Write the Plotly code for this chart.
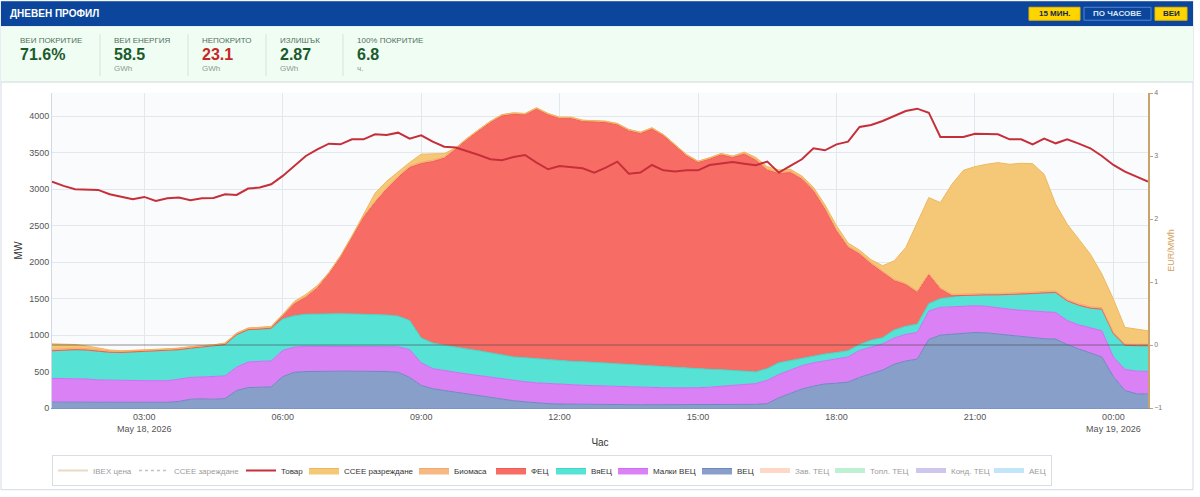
"""
Дневен профил - производство от ВЕИ и товар (15 мин.)
"""

import pandas as pd
import plotly.graph_objects as go

# Размер на картинката и полетата около графиката (px)
W, H = 1200, 497
M_L, M_R, M_T, M_B = 52, 52, 93, 88

FONT = "Liberation Sans, Arial, sans-serif"

# 15-минутни интервали 01:00 -> 00:45
TIMES = pd.date_range("2026-05-18 01:00", periods=96, freq="15min")

VEC = [80, 80, 80, 80, 80, 78, 78, 78, 78, 78, 78,
       90, 120, 125, 120, 130,
       240, 280, 285, 290,
       430, 490, 500, 505, 505, 505, 505, 505, 505, 500, 490, 420,
       310, 265, 240, 215, 195, 175, 150, 120, 100, 85, 70, 60, 55,
       52, 50, 50, 48, 48, 46, 45, 45, 45, 45, 45, 45, 46, 46, 47, 48, 50,
       60, 140, 200, 260, 300, 330, 340, 355, 420, 470, 520, 600, 645, 670,
       940, 1000, 1015, 1030, 1036, 1030, 1015, 1000, 975, 960, 950, 945,
       870, 810, 760, 700, 430, 240, 195, 190]

MALKI_VEC = [326, 325, 320, 318, 305, 302, 300, 298, 297, 297, 296,
             305, 300, 300, 308, 310,
             320, 350, 355, 355,
             360, 345, 345, 340, 340, 340, 340, 340, 340, 345, 350, 380,
             310, 275, 280, 275, 271, 270, 270, 275, 275, 275, 275, 275, 274,
             268, 262, 256, 252, 247, 244, 240, 235, 233, 231, 230, 233, 239, 249, 258, 267, 285,
             320, 320, 320, 320, 320, 320, 340, 345, 370, 370, 360, 360, 365, 366,
             390, 380, 375, 370, 366, 365, 355, 355, 365, 370, 370, 365,
             330, 330, 340, 359, 270, 290, 310, 312]

VYEC = [379, 390, 400, 397, 395, 385, 384, 394, 400, 405, 411,
        405, 400, 410, 417, 430,
        445, 445, 442, 440,
        430, 430, 440, 445, 447, 447, 445, 443, 440, 430, 420, 400,
        340, 350, 340, 340, 342, 340, 340, 335, 325, 330, 330, 325, 319,
        320, 323, 319, 315, 305, 300, 295, 290, 282, 274, 265, 256, 245, 230, 215, 190, 160,
        160, 160, 130, 105, 90, 90, 80, 85, 80, 90, 85, 110, 110, 114,
        100, 120, 130, 145, 150, 157, 182, 200, 220, 240, 260, 274,
        270, 270, 270, 297, 320, 330, 349, 352]

FEC = [0, 0, 0, 0, 0, 0, 0, 0, 0, 0, 0, 0, 0, 0, 0, 0, 0, 0, 0,
       10, 42, 160, 231, 354, 544, 772, 1048, 1324, 1532,
       1725, 1900, 2097, 2391, 2489, 2565, 2718, 2877, 3014, 3153,
       3274, 3327, 3328, 3421, 3358, 3320, 3328, 3292, 3297, 3298,
       3281, 3209, 3182, 3252, 3170, 3044, 2916, 2831, 2881, 2945,
       2914, 2975, 2902, 2720, 2594, 2578, 2452, 2267, 1986, 1669,
       1416, 1239, 1043, 893, 674, 570, 434, 396, 130, 19,
       0, 0, 0, 0, 0, 0, 0, 0, 0, 0, 0, 0, 0, 0, 0, 0, 0]

BIOMASA = [20, 20, 21, 21, 20, 20, 19, 19, 20, 20, 20, 21,
           21, 20, 20, 20, 21, 21, 22, 22, 22, 21, 21, 20,
           20, 20, 20, 20, 19, 19, 19, 20, 20, 20, 20, 20,
           19, 19, 19, 19, 20, 20, 20, 20, 20, 19, 19, 19,
           19, 20, 20, 20, 20, 20, 19, 19, 19, 20, 20, 20,
           20, 20, 21, 21, 21, 20, 20, 20, 20, 21, 21, 21,
           21, 20, 20, 20, 20, 20, 20, 20, 20, 20, 20, 20,
           20, 20, 20, 20, 20, 21, 21, 21, 20, 20, 20, 20]

CCEE_RAZR = [75, 65, 50, 35, 20, 10, 5,
             0, 0, 0, 0, 0, 0, 0, 0, 0, 0, 0, 0, 0, 0,
             15, 20, 15,
             0, 0, 0,
             30, 110, 90, 60, 50, 110, 85, 45,
             0, 0, 0, 0, 0, 0, 0, 0, 0, 0, 0, 0, 0, 0, 0, 0, 0, 0, 0, 0, 0, 0, 0, 0, 0,
             10, 20, 30, 30, 25, 25, 30, 40, 50, 40, 35,
             39, 72, 254, 490, 946, 1040, 1167, 1509, 1695, 1738, 1770, 1793,
             1767, 1776, 1761, 1605, 1190, 1030, 885, 719, 460, 453, 225, 204, 185]

TOVAR = [3105, 3046, 3000, 2991, 2991, 2931, 2895, 2863, 2895, 2840, 2877,
         2886, 2849, 2877, 2881, 2931, 2922, 3009, 3023, 3068, 3183, 3320,
         3456, 3548, 3625, 3616, 3685, 3685, 3753, 3744, 3776, 3694, 3740,
         3653, 3584, 3571, 3525, 3470, 3411, 3397, 3443, 3470, 3365, 3274,
         3320, 3306, 3288, 3228,
         3297, 3379, 3214, 3228, 3333, 3260, 3242, 3260, 3260, 3333, 3351,
         3374, 3351, 3329, 3379, 3228, 3320, 3411, 3562, 3534, 3616, 3653,
         3854, 3881, 3936, 4004, 4073,
         4105, 4050, 3717, 3717, 3717, 3762, 3753, 3753, 3685, 3685, 3616,
         3694, 3630, 3685, 3625, 3562, 3456, 3333, 3242, 3169, 3105]

# Показатели над графиката
KPI_LABELS = ["ВЕИ ПОКРИТИЕ", "ВЕИ ЕНЕРГИЯ", "НЕПОКРИТО", "ИЗЛИШЪК", "100% ПОКРИТИЕ"]
KPI_VALUES = ["71.6%", "58.5", "23.1", "2.87", "6.8"]
KPI_UNITS = ["", "GWh", "GWh", "GWh", "ч."]

Y_TICKS = [0, 500, 1000, 1500, 2000, 2500, 3000, 3500, 4000]

# ширина на текста в легендата (px), за по-плътно подреждане
LEGEND_W = {"IBEX цена": 36, "ССЕЕ зареждане": 62, "Товар": 18,
            "ССЕЕ разреждане": 65, "Биомаса": 32, "ФЕЦ": 15, "ВяЕЦ": 17,
            "Малки ВЕЦ": 39, "ВЕЦ": 13, "Зав. ТЕЦ": 30, "Топл. ТЕЦ": 36,
            "Конд. ТЕЦ": 33}


def px_x(x: float) -> float:
    """Пиксел по X -> paper координата"""
    return (x - M_L) / (W - M_L - M_R)


def px_y(y: float) -> float:
    """Пиксел по Y (отгоре) -> paper координата"""
    return (H - M_B - y) / (H - M_T - M_B)


def add_area(fig: go.Figure, name: str, values, line: str, fill: str, rank: int) -> None:
    fig.add_trace(go.Scatter(
        x=TIMES, y=values, name=name,
        stackgroup="vei", mode="lines",
        line=dict(color=line, width=1),
        fillcolor=fill, legendrank=rank, legendwidth=LEGEND_W.get(name),
    ))


def add_hidden(fig: go.Figure, name: str, color: str, rank: int, **kw) -> None:
    # серии, изключени от легендата (без видими стойности)
    fig.add_trace(go.Scatter(
        x=[TIMES[0]], y=[None], name=name, mode="lines",
        line=dict(color=color, width=kw.pop("width", 5), dash=kw.pop("dash", None)),
        visible="legendonly", legendrank=rank, legendwidth=LEGEND_W.get(name), **kw,
    ))


def add_rect(fig, x0, y0, x1, y1, fill, line=None):
    fig.add_shape(
        type="rect", xref="paper", yref="paper",
        x0=px_x(x0), x1=px_x(x1), y0=px_y(y1), y1=px_y(y0),
        fillcolor=fill, line=dict(color=line or fill, width=1 if line else 0),
        layer="below",
    )


def add_text(fig, x, y, text, size, color, bold=False, anchor="left"):
    fig.add_annotation(
        xref="paper", yref="paper", x=px_x(x), y=px_y(y),
        text=f"<b>{text}</b>" if bold else text, showarrow=False,
        xanchor=anchor, yanchor="middle",
        font=dict(family=FONT, size=size, color=color),
    )


fig = go.Figure()

# Натрупани площи (отдолу нагоре)
add_area(fig, "ВЕЦ", VEC, "#6d89bf", "#889fc9", 9)
add_area(fig, "Малки ВЕЦ", MALKI_VEC, "#cf6df2", "#da82f5", 8)
add_area(fig, "ВяЕЦ", VYEC, "#3fd9c9", "#56e2d4", 7)
add_area(fig, "ФЕЦ", FEC, "#f25a53", "#f76d66", 6)
add_area(fig, "Биомаса", BIOMASA, "#f5aa6c", "#f7b983", 5)
add_area(fig, "ССЕЕ разреждане", CCEE_RAZR, "#f0b85c", "#f5c878", 4)

fig.add_trace(go.Scatter(
    x=TIMES, y=TOVAR, name="Товар", mode="lines",
    line=dict(color="#c62f3a", width=2), legendrank=3,
    legendwidth=LEGEND_W["Товар"],
))

add_hidden(fig, "IBEX цена", "#d2b48c", 1, width=2, yaxis="y2")
add_hidden(fig, "ССЕЕ зареждане", "#888888", 2, width=1.5, dash="dot")
add_hidden(fig, "Зав. ТЕЦ", "#ffb08f", 10)
add_hidden(fig, "Топл. ТЕЦ", "#7fe3a8", 11)
add_hidden(fig, "Конд. ТЕЦ", "#9f8fdc", 12)
add_hidden(fig, "АЕЦ", "#86cdf5", 13)

# Заглавна лента и панел с показатели
add_rect(fig, 1, 1, 1193, 491, "rgba(0,0,0,0)", "#d3dae3")
add_rect(fig, 1, 1, 1193, 26, "#0b469c")
add_rect(fig, 1, 26, 1193, 82, "#f0fdf3")
fig.add_shape(type="line", xref="paper", yref="paper",
              x0=px_x(1), x1=px_x(1193), y0=px_y(82), y1=px_y(82),
              line=dict(color="#cfd8dc", width=1))
add_text(fig, 8, 13, "ДНЕВЕН ПРОФИЛ", 10, "white", bold=True)

add_rect(fig, 1029, 7, 1080, 20, "#ffd500", "#e6b800")
add_text(fig, 1054.5, 13.5, "15 МИН.", 8, "#13284f", bold=True, anchor="center")
add_rect(fig, 1084, 7, 1151, 20, "#0b469c", "#4f86d6")
add_text(fig, 1117.5, 13.5, "ПО ЧАСОВЕ", 8, "#dbe6f7", bold=True, anchor="center")
add_rect(fig, 1155, 7, 1187, 20, "#ffd500", "#e6b800")
add_text(fig, 1171, 13.5, "ВЕИ", 8, "#13284f", bold=True, anchor="center")

kpi_x = [18, 112, 200, 278, 355]
for i, (lab, val, unit) in enumerate(zip(KPI_LABELS, KPI_VALUES, KPI_UNITS)):
    add_text(fig, kpi_x[i], 40, lab, 8, "#53705f")
    add_text(fig, kpi_x[i], 54, val, 16, "#c62828" if lab == "НЕПОКРИТО" else "#1c5a2e", bold=True)
    if unit:
        add_text(fig, kpi_x[i], 68, unit, 8, "#8a9a90")
    if i > 0:
        fig.add_shape(type="line", xref="paper", yref="paper",
                      x0=px_x(kpi_x[i] - 12), x1=px_x(kpi_x[i] - 12),
                      y0=px_y(34), y1=px_y(76),
                      line=dict(color="#d4e4da", width=1))

# Нулева линия на дясната ос (над площите)
fig.add_shape(type="line", xref="paper", yref="y2", x0=0, x1=1, y0=0, y1=0,
              line=dict(color="rgba(70,70,70,0.6)", width=1), layer="above")

fig.update_layout(
    width=W, height=H,
    margin=dict(l=M_L, r=M_R, t=M_T, b=M_B),
    paper_bgcolor="white",
    plot_bgcolor="#f9fbfd",
    font=dict(family=FONT, size=9, color="#444"),
    showlegend=True,
    legend=dict(
        orientation="h", x=0, y=px_y(455), xanchor="left", yanchor="top",
        bordercolor="#d9dee5", borderwidth=1, bgcolor="white",
        font=dict(size=8, color="#333"), traceorder="normal",
    ),
    xaxis=dict(
        type="date", range=[TIMES[0], TIMES[-1]],
        dtick=3 * 3600 * 1000, tick0="2026-05-18 00:00",
        gridcolor="#e3e8ef", showline=True, linecolor="#7d95c4",
        tickfont=dict(size=9, color="#555"),
        title=dict(text="Час", font=dict(size=10, color="#333"), standoff=6),
    ),
    yaxis=dict(
        range=[0, 4320], tickvals=Y_TICKS, gridcolor="#e3e8ef",
        zeroline=False, showline=True, linecolor="#d3d9e1",
        tickfont=dict(size=9, color="#555"),
        title=dict(text="MW", font=dict(size=10, color="#333"), standoff=4),
    ),
    yaxis2=dict(
        overlaying="y", side="right", range=[-1, 4], dtick=1,
        showgrid=False, zeroline=False,
        showline=True, linecolor="#c9a36a", linewidth=1.5,
        ticks="outside", ticklen=3, tickcolor="#c9a36a",
        tickfont=dict(size=7, color="#777"),
        title=dict(text="EUR/MWh", font=dict(size=9, color="#d3a25d"), standoff=6),
    ),
)

# без отстъпа на <body>, за да съвпадне с прозореца 1200x497
fig.write_html("out.html", config={"displayModeBar": False},
               post_script="document.body.style.margin='0';")
